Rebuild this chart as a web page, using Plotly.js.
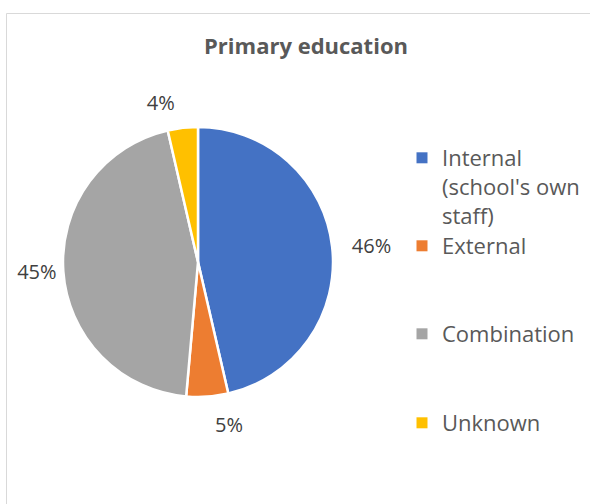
<!DOCTYPE html>
<html>
<head>
<meta charset="utf-8">
<script src="https://cdn.plot.ly/plotly-3.0.1.min.js"></script>
<style>
  html, body { margin: 0; padding: 0; background: #ffffff; }
  #chart { width: 590px; height: 504px; }
</style>
</head>
<body>
<div id="chart"></div>
<script>
// ---- data ----
const categories = ["Internal (school's own staff)", "External", "Combination", "Unknown"];
const legendText = ["Internal<br>(school's own<br>staff)", "External", "Combination", "Unknown"];
const shares = [46.4, 5.0, 45.0, 3.6];
const sliceColors = ["#4472C4", "#ED7D31", "#A5A5A5", "#FFC000"];
const chartTitle = "Primary education";

// ---- layout helpers (pixel -> paper, margins are zero) ----
const W = 590, H = 504;
const px = v => v / W;
const py = v => 1 - v / H;
const cx = 198, cy = 262, r = 135;
const labelPull = [0.096, 0.104, 0, 0.089];          // label offsets (style only)
const maxPull = Math.max(...labelPull);
const rLabel = r * (1 + maxPull);

// visible pie (no text)
const pie = {
  type: 'pie',
  labels: categories,
  values: shares,
  sort: false,
  direction: 'clockwise',
  rotation: 0,
  marker: { colors: sliceColors, line: { color: '#ffffff', width: 2.5 } },
  textinfo: 'none',
  automargin: false,
  showlegend: false,
  hoverinfo: 'label+percent',
  domain: { x: [px(cx - r), px(cx + r)], y: [py(cy + r), py(cy - r)] }
};

// same data on a transparent pie, only to carry the outside data labels
const labelPie = {
  type: 'pie',
  labels: categories,
  values: shares,
  sort: false,
  direction: 'clockwise',
  rotation: 0,
  pull: labelPull,
  marker: { colors: ['rgba(0,0,0,0)', 'rgba(0,0,0,0)', 'rgba(0,0,0,0)', 'rgba(0,0,0,0)'], line: { width: 0 } },
  textposition: 'outside',
  texttemplate: '%{percent:.0%}',
  textfont: { family: 'Open Sans, sans-serif', size: 20, color: '#404040' },
  automargin: false,
  showlegend: false,
  hoverinfo: 'skip',
  domain: { x: [px(cx - rLabel), px(cx + rLabel)], y: [py(cy + rLabel), py(cy - rLabel)] }
};

const legendIds = ['legend', 'legend2', 'legend3', 'legend4'];
const legendCenters = [137, 246, 334, 423];

const legendTraces = categories.map((c, i) => ({
  type: 'scatter',
  x: [null], y: [null],
  mode: 'markers',
  name: legendText[i],
  marker: { symbol: 'square', size: 11, color: sliceColors[i] },
  showlegend: true,
  legend: legendIds[i],
  hoverinfo: 'skip'
}));

const layout = {
  width: W, height: H,
  margin: { l: 0, r: 0, t: 0, b: 0 },
  paper_bgcolor: '#ffffff',
  plot_bgcolor: '#ffffff',
  title: {
    text: '<b>' + chartTitle + '</b>',
    font: { family: 'Open Sans, sans-serif', size: 22, color: '#595959' },
    x: px(306), xref: 'paper', xanchor: 'center',
    y: py(46), yref: 'paper', yanchor: 'middle'
  },
  xaxis: { visible: false, domain: [0.99, 1] },
  yaxis: { visible: false, domain: [0.99, 1] },
  shapes: [{
    type: 'rect', xref: 'paper', yref: 'paper',
    x0: px(6.5), x1: 1.1, y0: -0.1, y1: py(13.5),
    line: { color: '#D9D9D9', width: 1 }, fillcolor: 'rgba(0,0,0,0)', layer: 'below'
  }]
};

legendIds.forEach((id, i) => {
  layout[id] = {
    x: px(402), xanchor: 'left',
    y: py(legendCenters[i]), yanchor: i === 0 ? 'top' : 'middle',
    valign: 'top',
    bgcolor: 'rgba(0,0,0,0)',
    borderwidth: 0,
    font: { family: 'Open Sans, sans-serif', size: 22, color: '#595959' }
  };
});

Plotly.newPlot('chart', [pie, labelPie].concat(legendTraces), layout, { displayModeBar: false, staticPlot: true });
</script>
</body>
</html>
